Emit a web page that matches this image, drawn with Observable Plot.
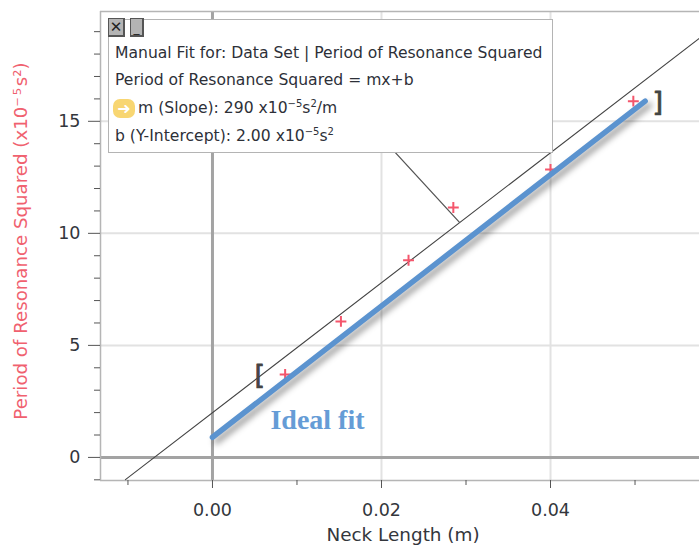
<!DOCTYPE html>
<html>
<head>
<meta charset="utf-8">
<script src="https://cdn.jsdelivr.net/npm/d3@7"></script>
<script src="https://cdn.jsdelivr.net/npm/@observablehq/plot@0.6"></script>
<style>
html,body{margin:0;padding:0;background:#fff;}
#wrap{position:relative;width:699px;height:545px;overflow:hidden;}
#box{position:absolute;left:108px;top:19px;width:443px;height:132px;background:#fff;border:1.5px solid #b4b4b4;box-sizing:content-box;font-family:"DejaVu Sans",sans-serif;font-size:15.6px;color:#2d3038;}
#box .row{position:absolute;left:6px;white-space:nowrap;line-height:18px;}
#box sup{font-size:10px;line-height:0;vertical-align:6px;}
.btn{position:absolute;top:-2px;height:16px;background:#b4b4b4;border:1px solid #555;border-width:1px 2px 2px 1px;font:15px "DejaVu Sans",sans-serif;text-align:center;line-height:16px;color:#222;}
.arrow{position:absolute;left:-2px;top:0px;width:22px;height:19px;background:#f8d672;border-radius:7px;color:#fff;font:bold 16px/19px "DejaVu Sans",sans-serif;text-align:center;}
.ideal{filter:drop-shadow(4px 4px 3px rgba(0,0,0,0.4));}
</style>
</head>
<body>
<div id="wrap">
<div id="chart"></div>
<div id="box">
  <div class="btn" style="left:-1px;width:14px">✕</div>
  <div class="btn" style="left:21px;width:11px;line-height:19px;font-size:12px">_</div>
  <div class="row" style="top:24px">Manual Fit for: Data Set | Period of Resonance Squared</div>
  <div class="row" style="top:51px">Period of Resonance Squared = mx+b</div>
  <div class="row" style="top:79px"><span class="arrow">➜</span><span style="margin-left:23px">m (Slope): 290 x10<sup>−5</sup>s<sup>2</sup>/m</span></div>
  <div class="row" style="top:107px">b (Y-Intercept): 2.00 x10<sup>−5</sup>s<sup>2</sup></div>
</div>
</div>
<script>
const neckLength = [0.0086, 0.0152, 0.0232, 0.0285, 0.04, 0.0498];
const periodSquared = [3.7, 6.07, 8.8, 11.15, 12.85, 15.9];
const manualLineX = [-0.0103, 0.0576];
const manualLineY = [-0.99, 18.7];
const idealLineX = [0, 0.0512];
const idealLineY = [0.9, 15.9];
const residualX = [0.0214, 0.02923];
const residualY = [13.7, 10.49];
const xGrid = [0.02, 0.04];
const yGrid = [5, 10, 15];
const xMajor = [0, 0.02, 0.04];
const xMinor = [-0.01, 0.01, 0.03, 0.05];
const yMajor = [0, 5, 10, 15];
const yMinor = [-1,1,2,3,4,6,7,8,9,11,12,13,14,16,17,18,19];
const xDomain = [-0.01325, 0.05763];
const yDomain = [-1.03, 19.9];

const pts = (xs, ys) => xs.map((x, i) => [x, ys[i]]);
const frameGrey = "#b5b5b5", gridGrey = "#e2e2e2", axisGrey = "#a3a3a3", tickGrey = "#555";

const plot = Plot.plot({
  width: 699, height: 545,
  marginLeft: 100, marginRight: 0, marginTop: 11, marginBottom: 65,
  style: {fontFamily: '"DejaVu Sans",sans-serif', background: "#fff", color: "#33363c"},
  x: {domain: xDomain},
  y: {domain: yDomain},
  marks: [
    Plot.ruleX(xGrid, {stroke: gridGrey, strokeWidth: 2}),
    Plot.ruleY(yGrid, {stroke: gridGrey, strokeWidth: 2}),
    Plot.ruleX([0], {stroke: axisGrey, strokeWidth: 3}),
    Plot.ruleY([0], {stroke: axisGrey, strokeWidth: 3}),
    Plot.ruleX([xDomain[0]], {stroke: frameGrey, strokeWidth: 1.5}),
    Plot.ruleY([yDomain[0], yDomain[1]], {stroke: frameGrey, strokeWidth: 1.5}),
    Plot.axisY(yMinor, {tickSize: 6, text: null, label: null, stroke: tickGrey}),
    Plot.axisY(yMajor, {tickSize: 12, tickPadding: 8, fontSize: 17.5, label: null, stroke: tickGrey, fill: "#33363c"}),
    Plot.axisX(xMinor, {tickSize: 5, text: null, label: null, stroke: tickGrey}),
    Plot.axisX(xMajor, {tickSize: 8, tickPadding: 15, fontSize: 17.5, label: null, tickFormat: d => d.toFixed(2), stroke: tickGrey, fill: "#33363c"}),
    Plot.line(pts(manualLineX, manualLineY), {stroke: "#444", strokeWidth: 1.1}),
    Plot.line(pts(residualX, residualY), {stroke: "#555", strokeWidth: 1.3}),
    Plot.dot(pts(neckLength, periodSquared), {symbol: "plus", r: 3.6, stroke: "#f4566c", strokeWidth: 2}),
    Plot.line(pts(idealLineX, idealLineY), {stroke: "#5b93cf", strokeWidth: 5.5, className: "ideal"}),
    Plot.text(["["], {x: [0.0056], y: [3.65], fontSize: 27, fill: "#444", stroke: "#444", strokeWidth: 0.8}),
    Plot.text(["]"], {x: [0.0527], y: [15.85], fontSize: 27, fill: "#444", stroke: "#444", strokeWidth: 0.8}),
    Plot.text(["Ideal fit"], {x: [0.00686], y: [1.65], textAnchor: "start", fontSize: 28, fontWeight: "bold", fontFamily: '"Liberation Serif",serif', fill: "#659cd6"}),
    Plot.text(["Period of Resonance Squared (x10⁻\u200A⁵\u200As²)"], {frameAnchor: "left", textAnchor: "middle", rotate: -90, dx: -79, dy: -5, fontSize: 18.2, fill: "#f0616f"}),
    Plot.text(["Neck Length (m)"], {frameAnchor: "bottom", dx: 3, dy: 60, fontSize: 18.4, fill: "#33363c"})
  ]
});
document.getElementById("chart").appendChild(plot);
</script>
</body>
</html>
